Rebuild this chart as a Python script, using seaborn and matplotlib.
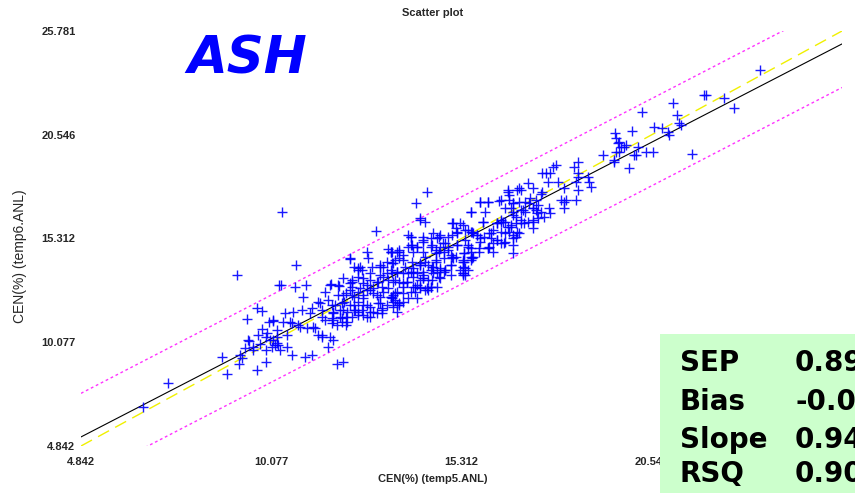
import numpy as np
import pandas as pd
import matplotlib
matplotlib.use("Agg")
import matplotlib.pyplot as plt
import seaborn as sns
from matplotlib.patches import Rectangle

# ---------------- data ----------------
ref_x = [6.55, 9.14, 7.24, 8.73, 8.86, 9.22, 9.28, 9.20, 9.69, 9.94, 9.42, 9.69, 9.83, 10.02, 10.13,
         9.83, 9.72, 9.94, 9.47, 9.77, 9.36, 9.58, 9.58, 9.94, 10.10, 10.24, 10.30, 10.38, 9.44, 10.27,
         12.97, 10.77, 12.72, 12.23, 13.30, 13.41, 13.55, 12.53, 12.80, 10.35, 10.74, 11.04, 10.96, 11.73,
         11.95, 12.23, 12.31, 12.47, 12.72, 12.99, 13.16, 13.49, 11.56, 11.37, 11.65, 11.84, 12.09, 12.31,
         12.47, 12.61, 12.80, 12.99, 13.16, 13.36, 13.44, 13.58, 12.34, 12.39, 12.47, 11.98, 12.17, 11.78,
         11.48, 11.21, 11.15, 10.93, 10.46, 10.68, 10.13, 10.60, 10.82, 11.07, 11.23, 11.56, 11.76, 12.03,
         11.89, 12.12, 13.13, 11.48, 11.70, 10.24, 10.52, 10.32, 10.66, 11.01, 11.21, 11.65, 11.89, 12.06,
         10.13,
         12.34, 12.47, 13.08, 13.27, 13.44, 13.58, 13.91, 14.10, 11.43, 12.06, 12.25, 12.61, 13.41, 13.55,
         13.77, 13.99, 14.18, 13.99, 14.24, 14.04, 14.32, 13.58, 13.02, 12.61, 12.80, 12.99, 12.45, 12.17,
         11.98, 11.76, 11.48, 11.37, 11.48, 11.29, 10.88, 10.66, 10.41, 10.52, 10.24, 9.97, 10.19, 12.72,
         11.78, 10.05,
         14.37, 14.07, 16.58, 16.61, 15.83, 16.03, 16.33, 15.56, 15.97, 14.32, 15.09, 15.28, 15.89, 16.30,
         16.39, 16.58, 16.80, 16.88, 13.85, 14.54, 14.73, 15.06, 15.20, 15.48, 15.61, 15.75, 15.83, 16.11,
         16.19, 16.30, 16.39, 16.52, 16.74, 13.36, 14.26, 14.46, 14.87, 14.95, 15.20, 15.48, 15.56, 15.78,
         16.03, 15.34, 15.56, 15.06, 14.26, 14.32, 14.60, 14.82, 13.71, 13.49, 13.96, 14.18, 14.40, 14.54,
         14.73, 14.87, 15.28, 15.50, 15.34, 13.36, 13.71, 13.91, 14.10, 14.26, 14.54, 14.73, 14.40, 14.18,
         13.44, 13.82, 13.71, 13.99, 14.04, 14.46, 13.55, 13.44, 13.36, 13.49, 13.55,
         13.91, 14.24, 13.96, 14.60, 14.73, 15.01, 15.09, 15.37, 15.56, 16.06, 14.26, 14.82, 15.01, 15.34,
         15.42, 15.34, 14.51, 14.37, 14.18, 14.18,
         19.53, 19.55, 19.64, 19.69, 19.55, 19.64, 19.20, 19.50, 19.91, 17.90, 17.82, 18.53, 17.54, 17.76,
         18.40, 18.51, 18.53, 17.68, 17.96, 18.45, 18.78, 18.81, 18.87, 16.88, 16.94, 17.29, 17.54, 17.49,
         18.12, 18.53, 16.61, 17.07, 17.16, 16.74, 16.88, 16.39, 17.35, 17.43, 18.04, 18.12, 18.45, 16.52,
         16.66, 16.94, 17.07, 17.27, 17.35, 17.49, 17.71, 17.76, 16.72, 16.80, 17.57, 17.43, 16.39, 16.52,
         16.94, 17.02, 17.29, 16.66, 17.27, 16.85, 16.52, 16.74, 16.72, 16.74,
         14.18, 17.13, 17.63, 18.18, 18.12, 15.56, 16.06,
         23.52, 21.98, 22.03, 22.53, 22.80, 21.12, 21.23, 21.29, 21.34, 20.27, 20.60, 20.82, 20.99, 21.01,
         20.00, 19.83, 20.16, 20.38, 20.57, 20.10, 21.65, 19.61, 19.77, 20.05, 19.50]

pred_y = [6.81, 13.47, 8.02, 9.33, 8.48, 9.43, 9.28, 8.98, 8.68, 9.08, 11.25, 11.80, 11.65, 11.10, 11.15,
          10.74, 10.44, 10.34, 10.14, 9.99, 9.79, 9.84, 9.69, 9.69, 9.84, 10.04, 12.97, 16.65, 10.19, 9.94,
          15.69, 13.97, 14.63, 14.28, 14.78, 14.63, 14.63, 13.87, 13.57, 12.97, 12.86, 12.97, 12.36, 13.02,
          12.91, 13.07, 13.22, 13.37, 12.97, 13.12, 13.37, 13.22, 12.61, 12.11, 12.21, 11.96, 12.11, 12.46,
          12.61, 12.31, 12.71, 12.46, 12.61, 12.36, 12.11, 11.96, 11.96, 11.70, 11.60, 11.70, 11.60, 11.55,
          11.70, 11.80, 11.55, 11.70, 11.55, 11.60, 11.20, 11.10, 10.95, 10.79, 10.85, 11.20, 11.30, 11.30,
          10.95, 10.95, 11.80, 10.44, 10.34, 10.69, 9.84, 9.69, 9.43, 9.33, 9.43, 9.84, 8.98, 9.08,
          10.19,
          13.87, 13.72, 13.87, 14.12, 14.07, 14.73, 14.98, 14.88, 12.06, 12.46, 12.71, 13.07, 13.57, 13.62,
          13.87, 13.82, 13.97, 13.37, 13.32, 12.86, 12.71, 13.12, 12.06, 11.96, 11.60, 11.55, 11.45, 11.10,
          11.35, 11.05, 11.35, 10.44, 10.34, 10.79, 10.85, 11.05, 11.10, 10.44, 10.34, 10.54, 9.94, 11.35,
          10.19, 10.19,
          17.66, 17.10, 17.76, 17.50, 17.15, 17.15, 17.20, 16.65, 16.65, 16.14, 16.09, 16.09, 16.14, 16.09,
          16.14, 15.89, 16.09, 15.59, 15.49, 15.59, 15.49, 15.49, 15.64, 15.74, 15.64, 15.49, 15.34, 15.59,
          15.74, 15.24, 15.08, 15.13, 14.98, 14.63, 15.13, 14.88, 15.08, 14.88, 14.98, 14.98, 14.83, 14.63,
          14.83, 14.23, 14.23, 14.38, 14.63, 14.38, 14.58, 14.63, 14.48, 14.23, 14.12, 14.07, 13.97, 13.87,
          13.72, 13.72, 13.72, 13.72, 13.47, 13.72, 13.57, 13.62, 13.57, 13.47, 13.57, 13.32, 13.22, 13.22,
          13.12, 13.12, 12.86, 12.86, 12.61, 12.86, 12.61, 12.46, 12.36, 12.21, 11.96,
          15.39, 15.39, 14.98, 14.73, 14.88, 14.48, 14.33, 14.58, 14.38, 14.88, 13.62, 13.62, 13.97, 14.12,
          13.82, 13.57, 13.22, 12.81, 12.86, 16.34,
          20.63, 20.38, 20.18, 19.93, 19.67, 19.67, 19.52, 19.17, 18.87, 19.02, 18.92, 19.17, 18.62, 18.62,
          18.92, 18.62, 18.41, 18.16, 18.16, 18.16, 18.41, 18.16, 17.91, 17.86, 17.76, 17.86, 17.66, 17.56,
          17.86, 17.76, 17.25, 17.15, 17.10, 17.10, 17.15, 17.25, 17.25, 17.00, 17.25, 17.15, 17.25, 16.85,
          16.85, 16.75, 16.65, 16.85, 16.75, 16.65, 16.85, 16.60, 16.50, 16.40, 16.40, 16.34, 16.24, 16.14,
          16.24, 16.09, 16.24, 15.89, 15.84, 15.64, 15.59, 15.49, 15.34, 14.58,
          16.24, 18.11, 18.62, 17.25, 16.85, 15.64, 15.59,
          23.81, 22.55, 22.55, 22.40, 21.89, 22.15, 21.54, 21.14, 21.04, 21.69, 20.94, 20.89, 20.68, 20.53,
          20.73, 20.03, 19.93, 19.67, 19.67, 19.52, 19.57, 20.13, 19.93, 19.52, 19.27]

# denser core of the cloud (read from close-up views)
core_x = [13.91, 14.24, 14.46, 14.68, 13.85, 14.10, 13.36, 13.58, 13.58, 13.99, 12.25, 12.75, 12.47,
          12.58, 12.86, 13.08, 13.16, 13.41, 13.71, 14.18, 14.32, 14.60, 14.46, 14.65, 13.08, 13.27,
          13.55, 13.85, 13.99, 14.26, 12.06, 12.31, 12.61, 12.80, 13.02, 13.30, 13.69, 13.82, 14.10,
          14.46, 11.70, 11.92, 12.31, 12.53, 12.72, 12.89, 13.13, 13.30, 13.49, 13.69, 13.91, 14.18,
          14.40, 14.65, 11.92, 12.12, 12.34, 12.61, 12.89, 13.08, 13.41, 13.71, 13.85, 14.10, 11.76,
          12.03, 12.25, 12.45, 12.72, 13.08, 13.27, 13.58, 11.78, 12.06, 12.12, 12.34, 12.58, 12.80,
          12.89, 13.13, 13.44, 13.55, 12.31, 12.61, 12.80, 13.13, 11.78, 12.03,
          16.58, 16.85, 15.83, 16.03, 16.72, 17.21, 15.56, 16.72, 16.99, 17.29, 17.40, 15.89, 15.06,
          15.34, 15.15, 15.42, 16.30, 16.44, 16.66, 16.94, 17.13, 17.29, 15.64, 15.75, 15.20, 14.95,
          15.92, 16.11, 16.39, 16.61, 16.80, 14.65, 15.42, 15.83, 16.17, 16.30, 16.47, 14.51, 14.79,
          15.20, 15.50, 15.78, 16.03, 16.19, 14.68, 14.95, 15.37, 15.56, 15.15, 15.64, 14.60, 14.82,
          15.37, 15.34, 15.61, 14.73, 14.87, 14.51, 15.01, 15.34, 15.42, 14.68, 15.01]

core_y = [15.39, 15.24, 15.34, 15.39, 14.88, 14.88, 14.63, 14.63, 14.33, 14.63, 14.33, 14.33, 13.82,
          13.72, 13.87, 13.97, 13.87, 14.07, 14.23, 13.97, 14.12, 14.12, 13.72, 13.62, 13.47, 13.57,
          13.62, 13.57, 13.62, 13.32, 13.32, 13.12, 13.32, 13.22, 13.12, 13.22, 13.07, 13.12, 12.97,
          12.86, 12.97, 12.97, 12.86, 12.81, 12.71, 12.81, 12.86, 12.81, 12.56, 12.56, 12.61, 12.81,
          12.71, 12.86, 12.46, 12.56, 12.36, 12.46, 12.56, 12.36, 12.31, 12.11, 12.31, 12.31, 11.96,
          12.06, 11.96, 12.11, 11.96, 12.06, 11.96, 12.06, 11.60, 11.70, 11.35, 11.70, 11.70, 11.85,
          11.60, 11.70, 11.85, 11.60, 11.35, 11.45, 11.35, 11.55, 11.20, 11.10,
          17.66, 17.76, 17.15, 17.15, 17.10, 17.35, 16.65, 16.65, 16.75, 16.85, 16.60, 16.14, 16.09,
          15.99, 15.84, 15.74, 16.09, 16.14, 15.99, 16.09, 16.14, 16.14, 15.59, 15.49, 15.59, 15.39,
          15.39, 15.34, 15.64, 15.64, 15.39, 15.34, 15.24, 15.13, 15.08, 15.24, 15.08, 14.98, 15.08,
          14.98, 14.88, 14.83, 14.83, 14.63, 14.63, 14.73, 14.58, 14.63, 14.38, 14.38, 14.23, 14.33,
          14.12, 13.87, 14.33, 13.82, 13.72, 13.87, 13.97, 13.57, 13.47, 13.37, 13.47]

axis_ticks = [4.842, 10.077, 15.312, 20.546, 25.781]
tick_labels = ["4.842", "10.077", "15.312", "20.546", "25.781"]
fit_intercept = 0.714
fit_slope = 0.947
band_half_width = 2.2

stat_names = ["SEP", "Bias", "Slope", "RSQ"]
stat_values = ["0.89", "-0.0", "0.94", "0.90"]

# ---------------- figure ----------------
sns.set_style("white")
plt.rcParams["font.family"] = ["DejaVu Sans"]

W, H = 855, 493
fig = plt.figure(figsize=(W / 100, H / 100), dpi=100)
ax = fig.add_axes([81 / W, 47 / H, 761 / W, 415 / H])

lo, hi = axis_ticks[0], axis_ticks[-1]
line_df = pd.DataFrame({"x": [lo, hi]})
line_df["ident"] = line_df["x"]
line_df["fit"] = fit_intercept + fit_slope * line_df["x"]
line_df["upper"] = line_df["fit"] + band_half_width
line_df["lower"] = line_df["fit"] - band_half_width

sns.lineplot(data=line_df, x="x", y="upper", ax=ax, color="#ff33ff", lw=1.0,
             linestyle=(0, (2, 2)))
sns.lineplot(data=line_df, x="x", y="lower", ax=ax, color="#ff33ff", lw=1.0,
             linestyle=(0, (2, 2)))
sns.lineplot(data=line_df, x="x", y="ident", ax=ax, color="#f0f000", lw=1.0,
             linestyle=(0, (9, 5)))
sns.lineplot(data=line_df, x="x", y="fit", ax=ax, color="black", lw=0.8)

pts = pd.DataFrame({"x": ref_x + core_x, "y": pred_y + core_y})
sns.scatterplot(data=pts, x="x", y="y", ax=ax, marker="+", s=55, color="#0000ff",
                linewidth=1.0, alpha=0.9, zorder=3)

ax.set_xlim(lo, hi)
ax.set_ylim(lo, hi)
for s in ax.spines.values():
    s.set_visible(False)
ax.set_xticks(axis_ticks[:-1])
ax.set_yticks(axis_ticks)
ax.set_xticklabels(tick_labels[:-1], fontsize=8, fontweight="bold", family="Liberation Sans")
ax.set_yticklabels(tick_labels, fontsize=8, fontweight="bold", family="Liberation Sans")
ax.tick_params(axis="both", length=0)
ax.tick_params(axis="x", pad=8)
ax.tick_params(axis="y", pad=4)
ax.set_xlabel("")
ax.set_ylabel("")

fig.text(433 / W, 1 - 13 / H, "Scatter plot", ha="center", va="center", fontsize=8,
         fontweight="bold", family="Liberation Sans")
fig.text(433 / W, 1 - 479 / H, "CEN(%) (temp5.ANL)", ha="center", va="center", fontsize=8,
         fontweight="bold", family="Liberation Sans")
fig.text(20 / W, 1 - 256 / H, "CEN(%) (temp6.ANL)", ha="center", va="center", fontsize=10,
         rotation=90, family="Liberation Sans")
fig.text(247 / W, 1 - 60 / H, "ASH", ha="center", va="center", fontsize=37,
         fontweight="bold", style="italic", color="#0000ff")

# stats box (cut off by the right edge, as in the original)
fig.add_artist(Rectangle((660 / W, 0), 1 - 660 / W, (493 - 334) / H, transform=fig.transFigure,
                         facecolor="#ccffcc", edgecolor="none", zorder=5))
rows_y = [363, 402, 440, 474]
for name, val, ry in zip(stat_names, stat_values, rows_y):
    fig.text(680 / W, 1 - ry / H, name, ha="left", va="center", fontsize=20,
             fontweight="bold", color="black", zorder=6)
    fig.text(795 / W, 1 - ry / H, val, ha="left", va="center", fontsize=20,
             fontweight="bold", color="black", zorder=6)

fig.savefig("out.png", dpi=100)
